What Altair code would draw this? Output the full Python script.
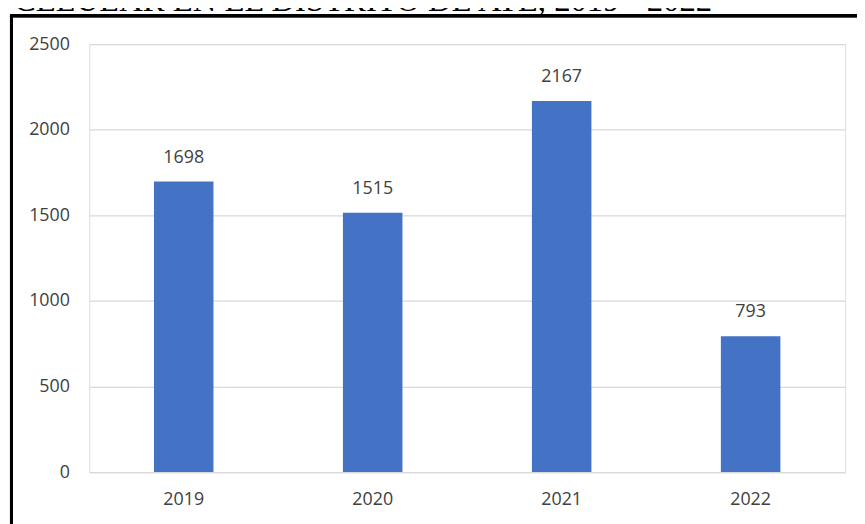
import altair as alt
import pandas as pd

years = ["2019", "2020", "2021", "2022"]
counts = [1698, 1515, 2167, 793]
y_ticks = [0, 500, 1000, 1500, 2000, 2500]
title_text = "CELULAR EN EL DISTRITO DE ATE, 2019 - 2022"

df = pd.DataFrame({"year": years, "count": counts})

W, H = 763, 432
PL, PT, PR, PB = 82, 34, 12, 50
TXT = "#404040"

x_enc = alt.X("year:N", sort=years,
              scale=alt.Scale(paddingInner=0.685, paddingOuter=0.3425),
              axis=alt.Axis(title=None, labelAngle=0, ticks=False, domain=True,
                            domainColor="#d9d9d9", domainWidth=1.3,
                            labelPadding=19, labelFontSize=18, labelColor=TXT,
                            labelFont="Open Sans", grid=False))
y_enc = alt.Y("count:Q", scale=alt.Scale(domain=[0, 2500], nice=False),
              axis=alt.Axis(title=None, values=y_ticks, format="d", ticks=False,
                            domain=False, grid=True, gridColor="#d9d9d9", gridWidth=1.3,
                            labelPadding=20, labelFontSize=18, labelColor=TXT,
                            labelFont="Open Sans"))

base = alt.Chart(df)
bars = base.mark_bar(color="#4472C4").encode(x=x_enc, y=y_enc)
labels = base.mark_text(baseline="bottom", dy=-15, fontSize=18, color=TXT,
                        font="Open Sans").encode(
    x=alt.X("year:N", sort=years), y="count:Q", text="count:Q")

border_left = alt.Chart(df).mark_rule(color="black", strokeWidth=3).encode(
    x=alt.value(-PL + 3.5), y=alt.value(-PT + 5), y2=alt.value(H + PB + 10))
border_top = alt.Chart(df).mark_rule(color="black", strokeWidth=3).encode(
    x=alt.value(-PL + 2), x2=alt.value(W + PR + 10), y=alt.value(-PT + 5.5))
title_mark = alt.Chart(pd.DataFrame({"t": [title_text]})).mark_text(
    align="left", baseline="alphabetic", fontSize=33, font="Liberation Serif",
    color="black").encode(x=alt.value(-PL + 6), y=alt.value(-PT + 1), text="t:N")

chart = alt.layer(bars, labels, border_left, border_top, title_mark).properties(
    width=W, height=H,
    autosize=alt.AutoSizeParams(type="none"),
    padding={"left": PL, "top": PT, "right": PR, "bottom": PB},
).configure_view(stroke=None).configure(background="white")

chart.save("out.html", embed_options={"renderer": "svg", "actions": False})
